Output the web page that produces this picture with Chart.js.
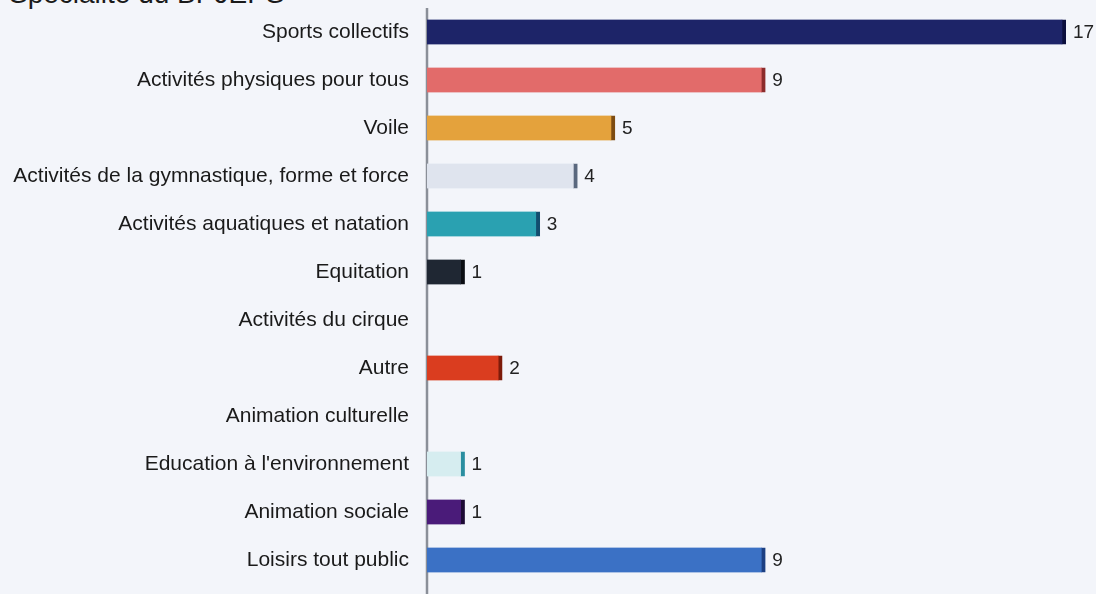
<!DOCTYPE html>
<html lang="fr">
<head>
<meta charset="utf-8">
<title>Spécialité du BPJEPS</title>
<script src="https://cdn.jsdelivr.net/npm/chart.js@4/dist/chart.umd.min.js"></script>
<style>
html,body{margin:0;padding:0;background:#f3f5fa;overflow:hidden;}
#wrap{position:relative;width:1096px;height:594px;}
#titre{position:absolute;left:9px;top:-20px;font:28px/28px "Liberation Sans",Arial,sans-serif;color:#1a1a1a;white-space:nowrap;}
canvas{position:absolute;left:0;top:0;}
</style>
</head>
<body>
<div id="wrap">
<div id="titre">Spécialité du BPJEPS</div>
<canvas id="specialiteChart" width="1096" height="594"></canvas>
</div>
<script>

// Spécialités
const specialites=[
"Sports collectifs",
"Activités physiques pour tous",
"Voile",
"Activités de la gymnastique, forme et force",
"Activités aquatiques et natation",
"Equitation",
"Activités du cirque",
"Autre",
"Animation culturelle",
"Education à l'environnement",
"Animation sociale",
"Loisirs tout public"
];

// Nombre de réponses
const effectifs=[17,9,5,4,3,1,0,2,0,1,1,9];

// couleurs des barres et de leur bout (effet relief)
const couleurs=["#1d2468","#e26b6a","#e4a23c","#dfe4ee","#2aa1b1","#1f2733","#888888","#da3d1f","#888888","#d6edf0","#4a1b79","#3b71c5"];
const bouts=["#0b0f3d","#8c2b2b","#7d4c12","#5a687e","#124d6e","#0a0d12","#555555","#7c1b0a","#555555","#2a8ea0","#1d0a34","#1c3f82"];


// valeurs au bout des barres
const etiquettes={
id:"etiquettes",
afterDatasetsDraw(chart){
let ctx=chart.ctx;
let meta=chart.getDatasetMeta(0);
ctx.save();
ctx.font='19px "Liberation Sans", Arial, sans-serif';
ctx.fillStyle="#222";
ctx.textBaseline="middle";
ctx.textAlign="left";
meta.data.forEach((bar,i)=>{
if(effectifs[i]>0){
ctx.fillText(effectifs[i],bar.x+7,bar.y+1);
}
});
ctx.restore();
}
};

// axe vertical gris qui descend jusqu'en bas
const axe={
id:"axe",
beforeDatasetsDraw(chart){
let ctx=chart.ctx;
let x=chart.chartArea.left;
ctx.save();
ctx.strokeStyle="#8a8f98";
ctx.lineWidth=2.5;
ctx.beginPath();
ctx.moveTo(x,8);
ctx.lineTo(x,chart.height);
ctx.stroke();
ctx.restore();
}
};

new Chart(
document.getElementById("specialiteChart"),
{
type:"bar",
data:{
labels:specialites,
datasets:[{
data:effectifs,
backgroundColor:couleurs,
borderColor:bouts,
borderWidth:{top:0,bottom:0,left:0,right:4},
borderSkipped:"left",
barThickness:25
}]
},
options:{
indexAxis:"y",
responsive:false,
animation:false,
layout:{padding:{top:8,bottom:10,right:30,left:0}},
plugins:{
legend:{display:false},
tooltip:{enabled:false}
},
scales:{
x:{
display:false,
min:0,
max:17
},
y:{
grid:{display:false,drawTicks:false},
border:{display:false},
afterFit(scale){
scale.width=427;
scale.paddingTop=0;
scale.paddingBottom=0;
},
ticks:{
padding:18,
color:"#1a1a1a",
font:{family:'"Liberation Sans", Arial, sans-serif',size:21}
}
}
}
},
plugins:[axe,etiquettes]
}
);

</script>
</body>
</html>
